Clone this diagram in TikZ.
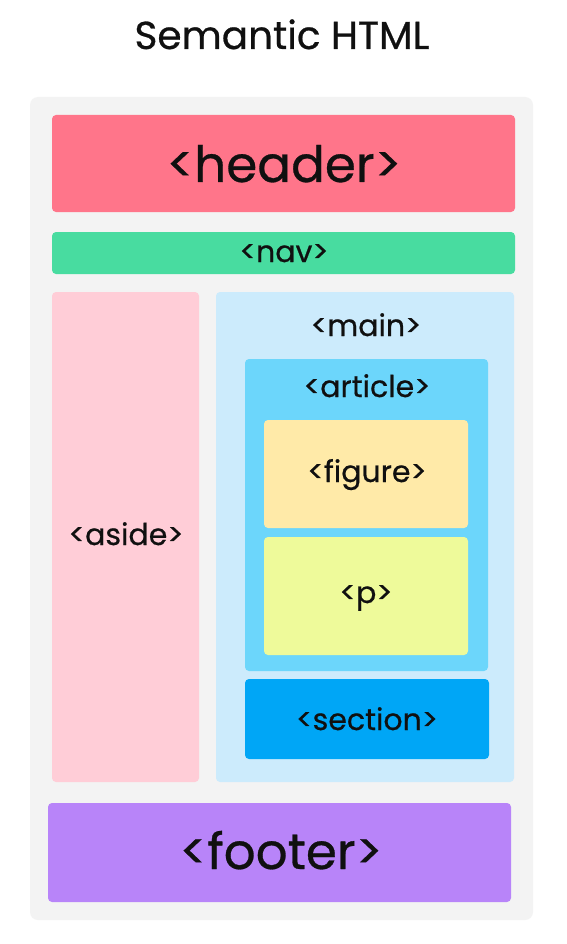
\documentclass[tikz,border=0pt]{standalone}
\usepackage{fontspec}
\setmainfont{Poppins}[FakeBold=0.6]
\definecolor{ink}{HTML}{101010}
\definecolor{panel}{HTML}{F3F3F3}
\definecolor{cheader}{HTML}{FF758A}
\definecolor{cnav}{HTML}{48DCA0}
\definecolor{caside}{HTML}{FFCDD7}
\definecolor{cmain}{HTML}{CCEBFC}
\definecolor{carticle}{HTML}{6CD6FB}
\definecolor{cfigure}{HTML}{FFEAA8}
\definecolor{cp}{HTML}{EEFA9A}
\definecolor{csection}{HTML}{00A6F6}
\definecolor{cfooter}{HTML}{B884F9}
\begin{document}
\begin{tikzpicture}[x=1pt,y=-1pt,
  box/.style={rounded corners=4pt, inner sep=0pt, draw=none},
  lbl/.style={anchor=base, inner sep=0pt, text=ink},
  big/.style={lbl, font=\fontsize{50}{50}\selectfont},
  mid/.style={lbl, font=\fontsize{30}{30}\selectfont}]
\useasboundingbox (0,0) rectangle (566,944);
\fill[white] (0,0) rectangle (566,944);
\node[lbl, font=\fontsize{39}{39}\selectfont] (title) at (282,49) {Semantic HTML};
\node[box, rounded corners=8pt, fill=panel, minimum width=503pt, minimum height=823pt] (panel) at (281.5,508.5) {};
\node[box, fill=cheader, minimum width=463pt, minimum height=97pt] (header) at (283.5,163.5) {};
\node[big] (headerlbl) at (284,182) {<header>};
\node[box, fill=cnav, minimum width=463pt, minimum height=42pt] (nav) at (283.5,253) {};
\node[mid] (navlbl) at (284,262) {<nav>};
\node[box, fill=caside, minimum width=147pt, minimum height=490pt] (aside) at (125.5,537) {};
\node[mid] (asidelbl) at (126,545) {<aside>};
\node[box, fill=cmain, minimum width=298pt, minimum height=490pt] (main) at (365,537) {};
\node[mid] (mainlbl) at (366,336) {<main>};
\node[box, fill=carticle, minimum width=243pt, minimum height=312pt] (article) at (366.5,515) {};
\node[mid] (articlelbl) at (367,397) {<article>};
\node[box, fill=cfigure, minimum width=204pt, minimum height=108pt] (figure) at (366,474) {};
\node[mid] (figurelbl) at (367,482) {<figure>};
\node[box, fill=cp, minimum width=204pt, minimum height=118pt] (p) at (366,596) {};
\node[mid] (plbl) at (366,603) {<p>};
\node[box, fill=csection, minimum width=244pt, minimum height=80pt] (section) at (367,719) {};
\node[mid] (sectionlbl) at (367,730) {<section>};
\node[box, fill=cfooter, minimum width=463pt, minimum height=99pt] (footer) at (279.5,852.5) {};
\node[big] (footerlbl) at (281,869) {<footer>};
\end{tikzpicture}
\end{document}
